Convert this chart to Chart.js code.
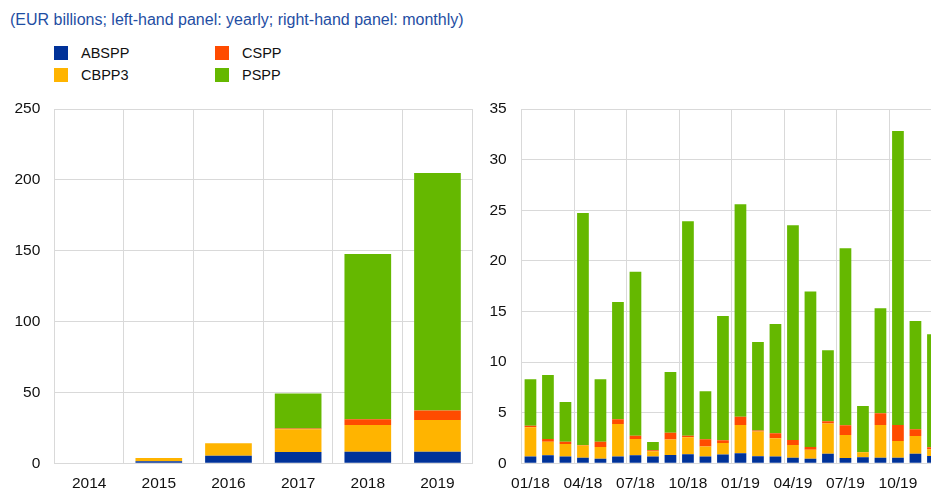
<!DOCTYPE html>
<html>
<head>
<meta charset="utf-8">
<script src="https://cdn.jsdelivr.net/npm/chart.js@4/dist/chart.umd.min.js"></script>
<style>
  html, body { margin: 0; padding: 0; background: #fff; overflow: hidden; width: 931px; height: 490px; }
  body { position: relative; font-family: "Liberation Sans", Arial, sans-serif; }
  #title { position: absolute; left: 10px; top: 11px; font-size: 16px; color: #1f4ea3; white-space: nowrap; }
  .lg { position: absolute; font-size: 14.5px; color: #111; white-space: nowrap; line-height: 14px; }
  .sw { position: absolute; width: 14px; height: 14px; }
  #left { position: absolute; left: 0; top: 0; width: 480px; height: 490px; }
  #right { position: absolute; left: 480px; top: 0; width: 470px; height: 490px; }
</style>
</head>
<body>
<div id="title">(EUR billions; left-hand panel: yearly; right-hand panel: monthly)</div>
<div id="legend"></div>
<div id="left"><canvas id="c1"></canvas></div>
<div id="right"><canvas id="c2"></canvas></div>
<script>
// ---- data ----
const seriesNames = ['ABSPP', 'CBPP3', 'CSPP', 'PSPP'];
const seriesColors = ['#003299', '#ffb400', '#ff4b00', '#65b800'];

const years = ['2014', '2015', '2016', '2017', '2018', '2019'];
const yearABSPP = [0, 1.5, 5.4, 8.0, 8.2, 8.2];
const yearCBPP3 = [0, 2.3, 8.7, 16.0, 18.8, 22.4];
const yearCSPP  = [0, 0, 0, 0.5, 4.0, 6.6];
const yearPSPP  = [0, 0, 0, 24.7, 116.7, 167.6];
const yearTicks = [0, 50, 100, 150, 200, 250];

const months = ['01/18','02/18','03/18','04/18','05/18','06/18','07/18','08/18','09/18','10/18','11/18','12/18',
                '01/19','02/19','03/19','04/19','05/19','06/19','07/19','08/19','09/19','10/19','11/19','12/19'];
const monthABSPP = [0.66, 0.79, 0.66, 0.56, 0.46, 0.66, 0.79, 0.66, 0.82, 0.89, 0.66, 0.86,
                    0.99, 0.69, 0.66, 0.56, 0.46, 0.95, 0.53, 0.59, 0.56, 0.56, 0.95, 0.72];
const monthCBPP3 = [2.90, 1.35, 1.25, 1.19, 1.15, 3.23, 1.61, 0.53, 1.52, 1.68, 0.99, 1.14,
                    2.80, 2.44, 1.81, 1.25, 0.89, 2.97, 2.27, 0.50, 3.23, 1.65, 1.75, 0.66];
const monthCSPP  = [0.16, 0.26, 0.23, 0.06, 0.53, 0.46, 0.33, 0.09, 0.69, 0.16, 0.72, 0.27,
                    0.82, 0.10, 0.49, 0.49, 0.26, 0.23, 0.95, 0.03, 1.15, 1.58, 0.66, 0.20];
const monthPSPP  = [4.58, 6.33, 3.92, 22.92, 6.16, 11.59, 16.20, 0.83, 5.99, 21.17, 4.74, 12.28,
                    20.97, 8.76, 10.80, 21.21, 15.35, 7.01, 17.49, 4.54, 10.37, 29.04, 10.70, 11.16];
const monthTicks = [0, 5, 10, 15, 20, 25, 30, 35];

// ---- legend ----
const legendPos = [[54, 46], [215, 46], [54, 68], [215, 68]];
const legendOrder = [0, 2, 1, 3];
const lg = document.getElementById('legend');
legendOrder.forEach((si, k) => {
  const [x, y] = legendPos[k];
  const sw = document.createElement('div');
  sw.className = 'sw';
  sw.style.left = x + 'px'; sw.style.top = y + 'px'; sw.style.background = seriesColors[si];
  lg.appendChild(sw);
  const t = document.createElement('div');
  t.className = 'lg';
  t.style.left = (x + 27) + 'px'; t.style.top = y + 'px';
  t.textContent = seriesNames[si];
  lg.appendChild(t);
});

const tickFont = { family: '"Liberation Sans", Arial, sans-serif', size: 15.5 };
const gridColor = '#d9d9d9';

function makeDatasets(arrs) {
  return arrs.map((d, i) => ({
    label: seriesNames[i],
    data: d,
    backgroundColor: seriesColors[i],
    borderWidth: 0,
    categoryPercentage: 1,
    barPercentage: 0.67,
    stack: 's'
  }));
}

function makeOptions(cfg) {
  return {
    responsive: true,
    maintainAspectRatio: false,
    animation: false,
    layout: { padding: cfg.padding },
    plugins: { legend: { display: false }, tooltip: { enabled: false } },
    scales: {
      x: {
        stacked: true,
        grid: {
          offset: true, drawTicks: false, lineWidth: 1,
          color: cfg.xGridColor || gridColor
        },
        border: { color: gridColor },
        ticks: {
          autoSkip: false, maxRotation: 0, padding: 11, color: '#111', font: tickFont,
          callback: cfg.xTickCb || function (v) { return this.getLabelForValue(v); }
        },
        afterFit: s => { s.height = cfg.xHeight; }
      },
      y: {
        stacked: true,
        min: 0, max: cfg.yMax,
        afterBuildTicks: s => { s.ticks = cfg.yTicks.map(v => ({ value: v })); },
        grid: { drawTicks: false, color: gridColor, lineWidth: 1 },
        border: { color: gridColor },
        ticks: { padding: cfg.yPad, color: '#111', font: tickFont },
        afterFit: s => { s.width = cfg.yWidth; }
      }
    }
  };
}

new Chart(document.getElementById('c1'), {
  type: 'bar',
  data: { labels: years, datasets: makeDatasets([yearABSPP, yearCBPP3, yearCSPP, yearPSPP]) },
  options: makeOptions({
    padding: { top: 109, left: 0, right: 7.7, bottom: 0 },
    xHeight: 26.7, yWidth: 54.3, yPad: 14, yMax: 250, yTicks: yearTicks
  })
});

new Chart(document.getElementById('c2'), {
  type: 'bar',
  data: { labels: months, datasets: makeDatasets([monthABSPP, monthCBPP3, monthCSPP, monthPSPP]) },
  options: makeOptions({
    padding: { top: 109, left: 0, right: 8.3, bottom: 0 },
    xHeight: 26.7, yWidth: 41.7, yPad: 15, yMax: 35, yTicks: monthTicks,
    xGridColor: ctx => (ctx.index % 3 === 0 ? gridColor : 'rgba(0,0,0,0)'),
    xTickCb: function (v, i) { return i % 3 === 0 ? this.getLabelForValue(v) : ''; }
  })
});
</script>
</body>
</html>
